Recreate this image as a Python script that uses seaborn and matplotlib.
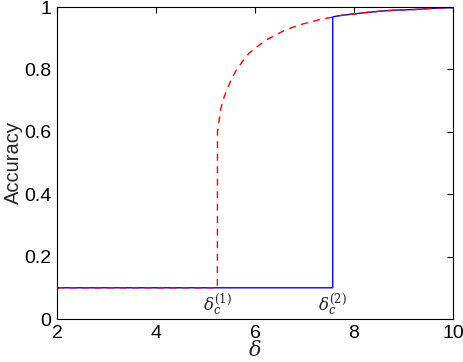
import matplotlib
matplotlib.use("Agg")
import matplotlib.pyplot as plt
import pandas as pd
import seaborn as sns

# curva roja (discontinua): umbral delta_c^(1)
red_x = [2.0, 5.24, 5.242, 5.311, 5.377, 5.443, 5.532, 5.624, 5.745, 5.879,
         6.046, 6.227, 6.416, 6.583, 6.750, 6.951, 7.152, 7.333, 7.522,
         7.688, 7.956, 8.225, 8.559, 8.828, 9.230, 9.632, 10.0]
red_y = [0.1, 0.1, 0.600, 0.675, 0.712, 0.739, 0.771, 0.798, 0.825, 0.852,
         0.873, 0.894, 0.910, 0.924, 0.934, 0.945, 0.953, 0.961, 0.966,
         0.972, 0.977, 0.982, 0.987, 0.990, 0.992, 0.996, 0.998]

# curva azul (continua): umbral delta_c^(2)
blue_x = [2.0, 7.57, 7.57, 7.688, 7.956, 8.225, 8.559, 8.828, 9.230, 9.632, 10.0]
blue_y = [0.1, 0.1, 0.968, 0.972, 0.977, 0.982, 0.987, 0.990, 0.992, 0.996, 0.998]

x_ticks = [2, 4, 6, 8, 10]
y_ticks = [0, 0.2, 0.4, 0.6, 0.8, 1]
y_labels = ["0", "0.2", "0.4", "0.6", "0.8", "1"]
umbrales = {r"$\delta_c^{(1)}$": 5.24, r"$\delta_c^{(2)}$": 7.57}

sns.set_theme(style="white")
plt.rcParams["font.family"] = ["Liberation Sans", "DejaVu Sans"]
plt.rcParams["mathtext.fontset"] = "dejavuserif"

fig = plt.figure(figsize=(4.64, 3.62), dpi=100)
ax = fig.add_axes([57 / 464, 43 / 362, 396 / 464, 312 / 362])

blue = pd.DataFrame({"x": blue_x, "y": blue_y})
red = pd.DataFrame({"x": red_x, "y": red_y})
sns.lineplot(data=blue, x="x", y="y", sort=False, estimator=None,
             color="blue", linewidth=1.0, ax=ax)
sns.lineplot(data=red, x="x", y="y", sort=False, estimator=None,
             color="red", linewidth=1.0, linestyle=(0, (5, 4)), ax=ax)

for texto, xv in umbrales.items():
    ax.text(xv, 0.085, texto, ha="center", va="top", fontsize=12)

ax.set_xlim(2, 10)
ax.set_ylim(0, 1)
ax.set_xticks(x_ticks)
ax.set_xticklabels([str(t) for t in x_ticks])
ax.set_yticks(y_ticks)
ax.set_yticklabels(y_labels)
ax.tick_params(direction="in", top=True, right=True, length=4,
               labelsize=14, width=0.8, colors="black", pad=4)
for s in ax.spines.values():
    s.set_color("black")
    s.set_linewidth(0.8)
ax.set_xlabel(r"$\delta$", fontsize=15, labelpad=-1)
ax.set_ylabel("Accuracy", fontsize=14.5, labelpad=1)

fig.savefig("out.png", dpi=100)
